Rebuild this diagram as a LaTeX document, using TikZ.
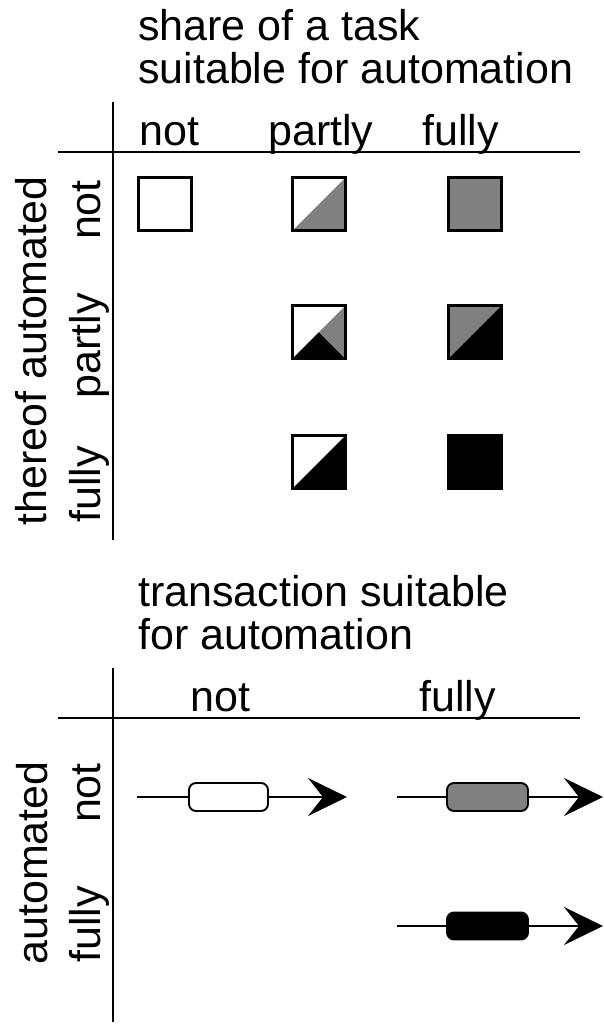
\documentclass[tikz,border=0pt]{standalone}
\usepackage{fontspec}
\setmainfont{Liberation Sans}
\usetikzlibrary{arrows.meta}
\definecolor{midgray}{HTML}{808080}
\tikzset{
  lbl/.style={inner sep=0pt, font=\fontsize{43}{43}\selectfont},
  axis/.style={line width=1.9pt},
  cell/.style={minimum size=53pt, inner sep=0pt, line width=2.6pt, draw},
  flow/.style={line width=1.9pt},
  flowtip/.style={line width=1.9pt, -{Stealth[length=39pt, width=38pt, inset=15pt]}},
  act/.style={draw, line width=1.9pt, rounded corners=7pt, minimum width=80pt,
              minimum height=28pt, inner sep=0pt},
}
% fill helpers for the lower-right / upper-left halves of a cell
\newcommand{\lowerright}[1]{\fill[#1] (path picture bounding box.south west) -- (path picture bounding box.north east) -- (path picture bounding box.south east) -- cycle;}
\newcommand{\upperleft}[1]{\fill[#1] (path picture bounding box.south west) -- (path picture bounding box.north east) -- (path picture bounding box.north west) -- cycle;}
\begin{document}
\begin{tikzpicture}[x=1pt, y=-1pt]
\useasboundingbox (0,0) rectangle (604,1026);

% ---------- upper matrix: share of a task ----------
\node[lbl, anchor=base west] (t1) at (138,40) {share of a task};
\node[lbl, anchor=base west] (t2) at (138,83) {suitable for automation};
\node[lbl, anchor=base west] (cn) at (139,145) {not};
\node[lbl, anchor=base west] (cp) at (268,145) {partly};
\node[lbl, anchor=base west] (cf) at (422,145) {fully};

\coordinate (h1a) at (58,152);  \coordinate (h1b) at (580,152);
\coordinate (v1a) at (113,102); \coordinate (v1b) at (113,540);
\draw[axis] (h1a) -- (h1b);
\draw[axis] (v1a) -- (v1b);

\node[lbl, rotate=90, anchor=base] (ra) at (46,351) {thereof automated};
\node[lbl, rotate=90, anchor=base east] (rn) at (100,180) {not};
\node[lbl, rotate=90, anchor=base] (rp) at (100,346) {partly};
\node[lbl, rotate=90, anchor=base west] (rf) at (100,523) {fully};

% row: not automated
\node[cell, fill=white] (c11) at (165,204) {};
\node[cell, fill=white, path picture={\lowerright{midgray}}] (c12) at (319,204) {};
\node[cell, fill=midgray] (c13) at (475,204) {};
% row: partly automated
\node[cell, fill=white, path picture={
  \fill[black] (path picture bounding box.south west) -- (path picture bounding box.center) -- (path picture bounding box.south east) -- cycle;
  \fill[midgray] (path picture bounding box.center) -- (path picture bounding box.north east) -- (path picture bounding box.south east) -- cycle;
}] (c22) at (319,332) {};
\node[cell, fill=black, path picture={\upperleft{midgray}}] (c23) at (475,332) {};
% row: fully automated
\node[cell, fill=white, path picture={\lowerright{black}}] (c32) at (319,462) {};
\node[cell, fill=black] (c33) at (475,462) {};

% ---------- lower matrix: transactions ----------
\node[lbl, anchor=base west] (b1) at (138,606) {transaction suitable};
\node[lbl, anchor=base west] (b2) at (138,649) {for automation};
\node[lbl, anchor=base west] (dn) at (190,711) {not};
\node[lbl, anchor=base west] (df) at (419,711) {fully};

\coordinate (h2a) at (58,718);  \coordinate (h2b) at (580,718);
\coordinate (v2a) at (113,668); \coordinate (v2b) at (113,1022);
\draw[axis] (h2a) -- (h2b);
\draw[axis] (v2a) -- (v2b);

\node[lbl, rotate=90, anchor=base] (sa) at (47,863) {automated};
\node[lbl, rotate=90, anchor=base east] (sn) at (100,763) {not};
\node[lbl, rotate=90, anchor=base west] (sf) at (100,963) {fully};

% transaction not suitable, not automated
\coordinate (s1) at (137,797); \coordinate (e1) at (347,797);
\node[act, fill=white, minimum width=79pt] (a1) at (228.5,797) {};
\draw[flow] (s1) -- (a1.west);
\draw[flowtip] (a1.east) -- (e1);
% transaction suitable, not automated
\coordinate (s2) at (397,797); \coordinate (e2) at (603,797);
\node[act, fill=midgray, minimum width=81pt] (a2) at (487.5,797) {};
\draw[flow] (s2) -- (a2.west);
\draw[flowtip] (a2.east) -- (e2);
% transaction suitable, fully automated
\coordinate (s3) at (397,926); \coordinate (e3) at (603,926);
\node[act, fill=black, minimum width=81pt, minimum height=27pt] (a3) at (487.5,926) {};
\draw[flow] (s3) -- (a3.west);
\draw[flowtip] (a3.east) -- (e3);
\end{tikzpicture}
\end{document}
